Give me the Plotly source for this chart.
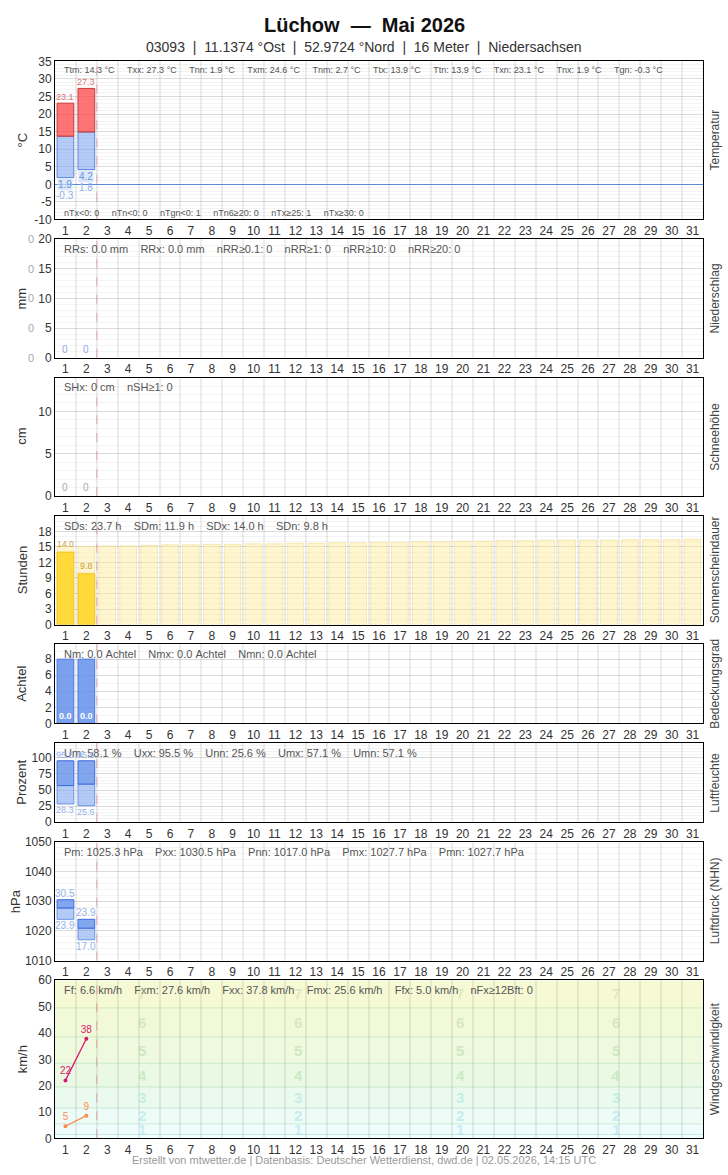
import plotly.graph_objects as go

# ---------------- data ----------------
days = list(range(1, 32))
obs_days = [1, 2]
t_max = [23.1, 27.3]
t_mean = [13.7, 14.9]
t_min = [1.9, 4.2]
t_ground = [-0.3, 1.8]
precip = [0.0, 0.0]
snow = [0, 0]
sun = [14.0, 9.8]
sun_possible = [15.1, 15.1, 15.2, 15.2, 15.3, 15.4, 15.4, 15.5, 15.5, 15.6, 15.6, 15.7,
                15.7, 15.8, 15.8, 15.9, 15.9, 16.0, 16.0, 16.1, 16.1, 16.2, 16.2, 16.3,
                16.3, 16.3, 16.3, 16.4, 16.4, 16.4, 16.5]
cloud_bar = [8, 8]
cloud_val = [0.0, 0.0]
hum_max = [95.5, 95.5]
hum_mean = [57.0, 59.2]
hum_min = [28.3, 25.6]
p_max = [1030.5, 1023.9]
p_mean = [1027.7, 1020.9]
p_min = [1023.9, 1017.0]
wind_mean = [4.6, 8.6]
wind_gust = [22.0, 37.8]
bft_edges = [0, 1.5, 5.5, 11.5, 19.5, 28.5, 38.5, 49.5, 60]
bft_labels = ["1", "2", "3", "4", "5", "6", "7"]
bft_label_y = [3.5, 8.5, 15.5, 24.0, 33.5, 44.0, 55.0]
today_line = 2.5

title = "<b>Lüchow  —  Mai 2026</b>"
subtitle = "03093  |  11.1374 °Ost  |  52.9724 °Nord  |  16 Meter  |  Niedersachsen"
footer = "Erstellt von mtwetter.de | Datenbasis: Deutscher Wetterdienst, dwd.de | 02.05.2026, 14:15 UTC"

panel_names = ["Temperatur", "Niederschlag", "Schneehöhe", "Sonnenscheindauer",
               "Bedeckungsgrad", "Luftfeuchte", "Luftdruck (NHN)", "Windgeschwindigkeit"]
panel_units = ["°C", "mm", "cm", "Stunden", "Achtel", "Prozent", "hPa", "km/h"]
stats = [
    ["Ttm: 14.3 °C", "Txx: 27.3 °C", "Tnn: 1.9 °C", "Txm: 24.6 °C", "Tnm: 2.7 °C",
     "Ttx: 13.9 °C", "Ttn: 13.9 °C", "Txn: 23.1 °C", "Tnx: 1.9 °C", "Tgn: -0.3 °C"],
    ["RRs: 0.0 mm", "RRx: 0.0 mm", "nRR≥0.1: 0", "nRR≥1: 0", "nRR≥10: 0", "nRR≥20: 0"],
    ["SHx: 0 cm", "nSH≥1: 0"],
    ["SDs: 23.7 h", "SDm: 11.9 h", "SDx: 14.0 h", "SDn: 9.8 h"],
    ["Nm: 0.0 Achtel", "Nmx: 0.0 Achtel", "Nmn: 0.0 Achtel"],
    ["Um: 58.1 %", "Uxx: 95.5 %", "Unn: 25.6 %", "Umx: 57.1 %", "Umn: 57.1 %"],
    ["Pm: 1025.3 hPa", "Pxx: 1030.5 hPa", "Pnn: 1017.0 hPa", "Pmx: 1027.7 hPa", "Pmn: 1027.7 hPa"],
    ["Ff: 6.6 km/h", "Fxm: 27.6 km/h", "Fxx: 37.8 km/h", "Fmx: 25.6 km/h", "Ffx: 5.0 km/h", "nFx≥12Bft: 0"],
]
temp_bottom_stats = ["nTx<0: 0", "nTn<0: 0", "nTgn<0: 1", "nTn6≥20: 0", "nTx≥25: 1", "nTx≥30: 0"]

# ---------------- layout geometry ----------------
W, H = 728, 1175
X0, X1 = 55, 703
panels_px = [(55, 215), (235, 355), (375, 495), (515, 625), (645, 725), (745, 825), (845, 965), (985, 1145)]
y_ranges = [[-10, 35], [0, 20], [0, 14], [0, 21], [0, 9.85], [0, 123], [1010, 1050], [0, 60]]
y_ticks = [list(range(-10, 36, 5)), list(range(0, 21, 5)), [0, 5, 10], list(range(0, 19, 3)),
           [0, 2, 4, 6, 8], [0, 25, 50, 75, 100], list(range(1010, 1051, 10)), list(range(0, 61, 10))]
y_minor = [1, 1, 1, 1, 1, 5, 2, None]
unit_x = [22, 21, 22, 22, 22, 22, 15, 22]

FONT = "Liberation Sans, Arial, sans-serif"
fig = go.Figure()
annotations = []
shapes = []

def ax(i):
    return ("x" if i == 0 else f"x{i+1}"), ("y" if i == 0 else f"y{i+1}")

for i, (top, bot) in enumerate(panels_px):
    xn = "xaxis" if i == 0 else f"xaxis{i+1}"
    yn = "yaxis" if i == 0 else f"yaxis{i+1}"
    xr, yr = ax(i)
    fig.layout[xn] = dict(
        domain=[X0 / W, X1 / W], anchor=yr, range=[0.5, 31.5],
        tickmode="array", tickvals=days, ticktext=[str(d) for d in days],
        tickfont=dict(size=12, color="#333"), showgrid=False, zeroline=False,
        showline=True, mirror=True, linecolor="black", linewidth=1, ticks="",
        minor=dict(tickmode="array", tickvals=[d + 0.5 for d in range(0, 32)],
                   showgrid=True, gridcolor="rgba(0,0,0,0.07)", gridwidth=2, ticks=""),
        fixedrange=True,
    )
    yd = dict(
        domain=[1 - bot / H, 1 - top / H], anchor=xr, range=y_ranges[i],
        tickmode="array", tickvals=y_ticks[i], ticktext=[str(t) for t in y_ticks[i]],
        tickfont=dict(size=12, color="#333"),
        showgrid=(i != 7), gridcolor="rgba(0,0,0,0.10)", gridwidth=1,
        zeroline=(i == 0), zerolinecolor="#5b8ad8", zerolinewidth=1.2,
        showline=True, mirror=True, linecolor="black", linewidth=1, ticks="",
        fixedrange=True,
    )
    if y_minor[i]:
        yd["minor"] = dict(dtick=y_minor[i], showgrid=True, gridcolor="rgba(0,0,0,0.045)", gridwidth=1)
    fig.layout[yn] = yd
    annotations.append(dict(xref="paper", yref="paper", x=unit_x[i] / W, y=1 - (top + bot) / 2 / H,
                            text=panel_units[i], textangle=-90, showarrow=False,
                            font=dict(size=13, color="#333", family=FONT), xanchor="center", yanchor="middle"))
    annotations.append(dict(xref="paper", yref="paper", x=715 / W, y=1 - (top + bot) / 2 / H,
                            text=panel_names[i], textangle=-90, showarrow=False,
                            font=dict(size=12, color="#444", family=FONT), xanchor="center", yanchor="middle"))
    fs = 9 if i == 0 else 11
    sep = "\u00a0" * (5 if i == 0 else 4)
    annotations.append(dict(xref="paper", yref="paper", x=62 / W, y=1 - (top + (9 if i == 0 else 10)) / H,
                            text=sep.join(s.replace(" ", "\u00a0") for s in stats[i]), showarrow=False,
                            font=dict(size=fs, color="#555", family=FONT), xanchor="left", yanchor="middle"))
    shapes.append(dict(type="line", xref=xr, yref=f"{yr} domain", x0=today_line, x1=today_line, y0=0, y1=1,
                       line=dict(color="rgba(220,110,110,0.55)", width=1, dash="dash"), layer="above"))

annotations.append(dict(xref="paper", yref="paper", x=62 / W, y=1 - 208 / H,
                        text=("\u00a0" * 5).join(s.replace(" ", "\u00a0") for s in temp_bottom_stats),
                        showarrow=False, font=dict(size=9, color="#555", family=FONT),
                        xanchor="left", yanchor="middle"))

BW = 0.8
# ---------------- temperature ----------------
fig.add_trace(go.Bar(x=obs_days, y=[m - n for m, n in zip(t_mean, t_min)], base=t_min, width=BW,
                     marker=dict(color="rgba(120,160,240,0.55)", line=dict(color="#5a86e0", width=1)),
                     xaxis="x", yaxis="y", hoverinfo="skip"))
fig.add_trace(go.Bar(x=obs_days, y=[x - m for x, m in zip(t_max, t_mean)], base=t_mean, width=BW,
                     marker=dict(color="rgba(255,70,70,0.75)", line=dict(color="#c43a3a", width=1)),
                     xaxis="x", yaxis="y", hoverinfo="skip"))
for d, tx, tn, tg in zip(obs_days, t_max, t_min, t_ground):
    annotations.append(dict(x=d, y=tx, xref="x", yref="y", text=f"{tx:.1f}", showarrow=False, yanchor="bottom",
                            font=dict(size=9, color="#e07070", family=FONT), borderpad=0))
    annotations.append(dict(x=d, y=tn, xref="x", yref="y", text=f"{tn:.1f}", showarrow=False, yanchor="top",
                            font=dict(size=10, color="#6b93dd", family=FONT), bgcolor="rgba(205,225,250,0.7)",
                            borderpad=0))
    annotations.append(dict(x=d, y=tn, xref="x", yref="y", text=f"{tg:.1f}", showarrow=False, yanchor="top",
                            yshift=-11, font=dict(size=10, color="#8fb0e8", family=FONT), borderpad=0))

# ---------------- precipitation ----------------
for d, v in zip(obs_days, precip):
    annotations.append(dict(x=d, y=0, xref="x2", yref="y2", text=f"{v:.0f}", showarrow=False, yanchor="bottom",
                            yshift=1, font=dict(size=10, color="#8fa6ea", family=FONT)))
for t in y_ticks[1]:
    annotations.append(dict(x=36 / W, y=t, xref="paper", yref="y2", text="0", showarrow=False, xanchor="right",
                            font=dict(size=11, color="#aaa", family=FONT)))

# ---------------- snow ----------------
for d, v in zip(obs_days, snow):
    annotations.append(dict(x=d, y=0, xref="x3", yref="y3", text=f"{v}", showarrow=False, yanchor="bottom",
                            yshift=1, font=dict(size=10, color="#aaa", family=FONT)))

# ---------------- sunshine ----------------
fig.add_trace(go.Bar(x=days, y=sun_possible, width=BW,
                     marker=dict(color="rgba(255,235,150,0.45)", line=dict(color="rgba(240,215,120,0.5)", width=1)),
                     xaxis="x4", yaxis="y4", hoverinfo="skip"))
fig.add_trace(go.Bar(x=obs_days, y=sun, width=BW,
                     marker=dict(color="#ffda3a", line=dict(color="#f2c21e", width=1)),
                     text=[f"{v:.1f}" for v in sun], textposition="outside",
                     textfont=dict(size=9, color="#c9a23a", family=FONT), cliponaxis=False,
                     xaxis="x4", yaxis="y4", hoverinfo="skip"))

# ---------------- cloud cover ----------------
fig.add_trace(go.Bar(x=obs_days, y=cloud_bar, width=BW,
                     marker=dict(color="rgba(100,145,235,0.85)", line=dict(color="#4a78e0", width=1)),
                     xaxis="x5", yaxis="y5", hoverinfo="skip"))
for d, v in zip(obs_days, cloud_val):
    annotations.append(dict(x=d, y=0, xref="x5", yref="y5", text=f"<b>{v:.1f}</b>", showarrow=False,
                            yanchor="bottom", yshift=0, font=dict(size=9, color="white", family=FONT)))

# ---------------- humidity ----------------
fig.add_trace(go.Bar(x=obs_days, y=[m - n for m, n in zip(hum_mean, hum_min)], base=hum_min, width=BW,
                     marker=dict(color="rgba(120,160,240,0.55)", line=dict(color="#6a94e6", width=1)),
                     xaxis="x6", yaxis="y6", hoverinfo="skip"))
fig.add_trace(go.Bar(x=obs_days, y=[x - m for x, m in zip(hum_max, hum_mean)], base=hum_mean, width=BW,
                     marker=dict(color="rgba(100,145,235,0.8)", line=dict(color="#3c6ae0", width=1)),
                     xaxis="x6", yaxis="y6", hoverinfo="skip"))
for d, hx, hn in zip(obs_days, hum_max, hum_min):
    annotations.append(dict(x=d, y=hx, xref="x6", yref="y6", text=f"{hx:.1f}", showarrow=False, yanchor="bottom",
                            borderpad=0, font=dict(size=9, color="#95b2ee", family=FONT)))
    annotations.append(dict(x=d, y=hn, xref="x6", yref="y6", text=f"{hn:.1f}", showarrow=False, yanchor="top",
                            borderpad=0, font=dict(size=9, color="#95b2ee", family=FONT)))

# ---------------- pressure ----------------
fig.add_trace(go.Bar(x=obs_days, y=[m - n for m, n in zip(p_mean, p_min)], base=p_min, width=BW,
                     marker=dict(color="rgba(120,160,240,0.55)", line=dict(color="#6a94e6", width=1)),
                     xaxis="x7", yaxis="y7", hoverinfo="skip"))
fig.add_trace(go.Bar(x=obs_days, y=[x - m for x, m in zip(p_max, p_mean)], base=p_mean, width=BW,
                     marker=dict(color="rgba(100,145,235,0.8)", line=dict(color="#3c6ae0", width=1)),
                     xaxis="x7", yaxis="y7", hoverinfo="skip"))
for d, px_, pn in zip(obs_days, p_max, p_min):
    annotations.append(dict(x=d, y=px_, xref="x7", yref="y7", text=f"{px_ - 1000:.1f}", showarrow=False,
                            yanchor="bottom", borderpad=0, font=dict(size=10, color="#95b2ee", family=FONT)))
    annotations.append(dict(x=d, y=pn, xref="x7", yref="y7", text=f"{pn - 1000:.1f}", showarrow=False,
                            yanchor="top", borderpad=0, font=dict(size=10, color="#95b2ee", family=FONT)))

# ---------------- wind ----------------
band_colors = ["#effefe", "#eefdfc", "#eefcf7", "#ebfaee", "#eaf9e3", "#eef9dd", "#f2f9d8", "#f6fad4"]
for k in range(len(bft_edges) - 1):
    shapes.append(dict(type="rect", xref="x8 domain", yref="y8", x0=0, x1=1, y0=bft_edges[k], y1=bft_edges[k + 1],
                       fillcolor=band_colors[k], line=dict(width=0), layer="below"))
for k in range(1, len(bft_edges) - 1):
    shapes.append(dict(type="line", xref="x8 domain", yref="y8", x0=0, x1=1, y0=bft_edges[k], y1=bft_edges[k],
                       line=dict(color="rgba(140,200,160,0.35)", width=1), layer="below"))
num_colors = ["rgba(160,225,230,0.55)", "rgba(160,225,230,0.55)", "rgba(160,225,220,0.5)",
              "rgba(170,220,170,0.5)", "rgba(175,215,165,0.5)", "rgba(185,215,170,0.5)", "rgba(200,205,175,0.45)"]
for xp in [0.125, 0.375, 0.625, 0.875]:
    for lab, yv, c in zip(bft_labels, bft_label_y, num_colors):
        annotations.append(dict(x=xp, y=yv, xref="x8 domain", yref="y8", text=f"<b>{lab}</b>", showarrow=False,
                                font=dict(size=15, color=c, family=FONT)))
fig.add_trace(go.Scatter(x=obs_days, y=wind_gust, mode="lines+markers+text", xaxis="x8", yaxis="y8",
                         line=dict(color="#d81b72", width=1.3), marker=dict(size=4, color="#d81b72"),
                         text=[f"{v:.0f}" for v in wind_gust], textposition="top center",
                         textfont=dict(size=10, color="#d81b72", family=FONT), hoverinfo="skip", cliponaxis=False))
fig.add_trace(go.Scatter(x=obs_days, y=wind_mean, mode="lines+markers+text", xaxis="x8", yaxis="y8",
                         line=dict(color="#ff8a50", width=1.3), marker=dict(size=4, color="#ff8a50"),
                         text=[f"{v:.0f}" for v in wind_mean], textposition="top center",
                         textfont=dict(size=10, color="#ff8a50", family=FONT), hoverinfo="skip", cliponaxis=False))

# ---------------- titles ----------------
annotations.append(dict(xref="paper", yref="paper", x=0.5, y=1 - 18 / H, text=title, showarrow=False,
                        font=dict(size=20, color="#111", family=FONT), yanchor="middle"))
annotations.append(dict(xref="paper", yref="paper", x=0.5, y=1 - 40 / H, text=subtitle.replace("  ", "\u00a0\u00a0"),
                        showarrow=False, font=dict(size=14, color="#333", family=FONT), yanchor="middle"))
annotations.append(dict(xref="paper", yref="paper", x=0.5, y=1 - 1167 / H, text=footer, showarrow=False,
                        font=dict(size=11, color="#999", family=FONT), yanchor="middle"))

fig.update_layout(width=W, height=H, margin=dict(l=0, r=0, t=0, b=0), showlegend=False,
                  barmode="overlay", paper_bgcolor="white", plot_bgcolor="white",
                  font=dict(family=FONT, color="#333"), annotations=annotations, shapes=shapes)
fig.write_html("out.html", config={"displayModeBar": False},
               post_script=("document.documentElement.style.margin='0px';"
                            "document.body.style.margin='0px';document.body.style.padding='0px';"
                            "document.body.style.overflow='hidden';"
                            "var gd=document.getElementById('{plot_id}');"
                            "gd.style.position='absolute';gd.style.left='0px';gd.style.top='0px';"))
